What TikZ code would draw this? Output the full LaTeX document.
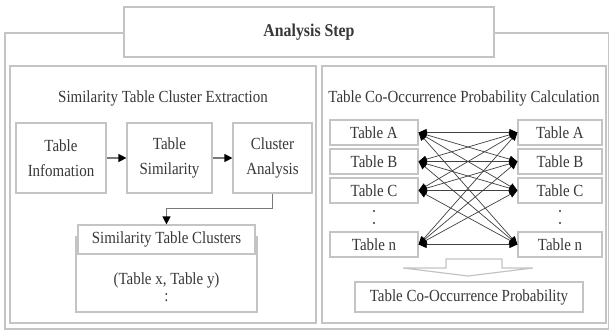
\documentclass[tikz,border=0pt]{standalone}
\usepackage{fontspec}
\setmainfont{Liberation Serif}[FakeStretch=0.88]
\usetikzlibrary{arrows.meta}
\definecolor{boxgray}{HTML}{C4C4C4}
\definecolor{txtgray}{HTML}{383838}
\definecolor{linegray}{HTML}{7A7A7A}
\tikzset{
  box/.style={draw=boxgray,line width=1.2pt,fill=white,text=txtgray,align=center,inner sep=0pt,font=\fontsize{17}{25}\selectfont},
  frame/.style={draw=boxgray,line width=1.2pt},
  flow/.style={draw=linegray,line width=1.2pt,-{Triangle[length=8pt,width=8pt,black]}},
  cross/.style={draw=black!75,line width=0.7pt,{Triangle[length=8pt,width=7pt,black]}-{Triangle[length=8pt,width=7pt,black]}},
  lbl/.style={text=txtgray,font=\fontsize{17}{18}\selectfont,inner sep=0pt},
  dot/.style={circle,fill=txtgray,inner sep=0pt,minimum size=2.2pt}
}
\begin{document}
\begin{tikzpicture}[x=1pt,y=-1pt]
	\useasboundingbox (0,0) rectangle (609,331);
	\draw[frame] (5,33) rectangle (608.4,329);
	\draw[frame] (10,66) rectangle (316,323);
	\draw[frame] (322,66) rectangle (606,323);
	\node[box,minimum width=370pt,minimum height=50pt,font=\fontsize{18}{18}\selectfont\bfseries] (step) at (309,32) {Analysis Step};
	\node[lbl] (ltitle) at (163,98) {Similarity Table Cluster Extraction};
	\node[box,minimum width=90pt,minimum height=70pt] (info) at (61,158) {Table\\Infomation};
	\node[box,minimum width=85pt,minimum height=70pt] (sim) at (169.5,158) {Table\\Similarity};
	\node[box,minimum width=79pt,minimum height=70pt] (clu) at (272.5,158) {Cluster\\Analysis};
	\draw[flow] (info) -- (sim);
	\draw[flow] (sim) -- (clu);
	\node[box,minimum width=181pt,minimum height=75pt] (lst) at (166.5,274.5) {};
	\node[box,minimum width=177pt,minimum height=29pt] (hdr) at (166.5,239.5) {Similarity Table Clusters};
	\node[lbl] (pair) at (166.5,280) {(Table x, Table y)};
	\node[lbl] (pdots) at (166.5,298) {:};
	\draw[flow] (clu.south) -- ++(0,15) -| (hdr.north);
	\node[lbl] (rtitle) at (464,98) {Table Co-Occurrence Probability Calculation};
	\node[box,minimum width=88pt,minimum height=25pt] (la) at (374,132.5) {Table A};
	\node[box,minimum width=88pt,minimum height=25pt] (lb) at (374,161.5) {Table B};
	\node[box,minimum width=88pt,minimum height=25pt] (lc) at (374,190.5) {Table C};
	\node[box,minimum width=88pt,minimum height=25pt] (ln) at (374,244.5) {Table n};
	\node[dot] (ldot1) at (374,211) {};
	\node[dot] (ldot2) at (374,223) {};
	\node[box,minimum width=84pt,minimum height=25pt] (ra) at (560,132.5) {Table A};
	\node[box,minimum width=84pt,minimum height=25pt] (rb) at (560,161.5) {Table B};
	\node[box,minimum width=84pt,minimum height=25pt] (rc) at (560,190.5) {Table C};
	\node[box,minimum width=84pt,minimum height=25pt] (rn) at (560,244.5) {Table n};
	\node[dot] (rdot1) at (560,211) {};
	\node[dot] (rdot2) at (560,223) {};
	\draw[cross] (la.east) -- (ra.west);
	\draw[cross] (la.east) -- (rb.west);
	\draw[cross] (la.east) -- (rc.west);
	\draw[cross] (la.east) -- (rn.west);
	\draw[cross] (lb.east) -- (ra.west);
	\draw[cross] (lb.east) -- (rb.west);
	\draw[cross] (lb.east) -- (rc.west);
	\draw[cross] (lb.east) -- (rn.west);
	\draw[cross] (lc.east) -- (ra.west);
	\draw[cross] (lc.east) -- (rb.west);
	\draw[cross] (lc.east) -- (rc.west);
	\draw[cross] (lc.east) -- (rn.west);
	\draw[cross] (ln.east) -- (ra.west);
	\draw[cross] (ln.east) -- (rb.west);
	\draw[cross] (ln.east) -- (rc.west);
	\draw[cross] (ln.east) -- (rn.west);
	\draw[frame,fill=white] (446,259) -- (502,259) -- (502,268) -- (533,268) -- (468,276) -- (403,268) -- (446,268) -- cycle;
	\node[box,minimum width=228pt,minimum height=30pt] (prob) at (469,297) {Table Co-Occurrence Probability};
\end{tikzpicture}
\end{document}
